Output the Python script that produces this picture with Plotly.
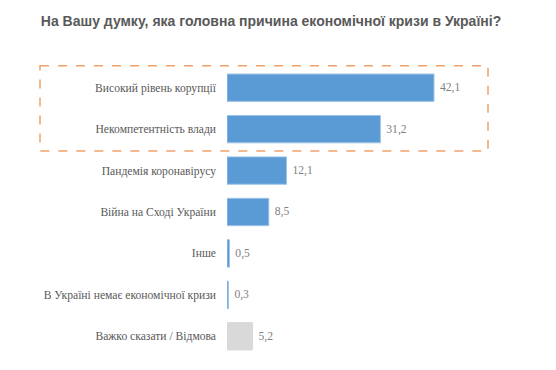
import plotly.graph_objects as go

categories = [
    "Високий рівень корупції",
    "Некомпетентність влади",
    "Пандемія коронавірусу",
    "Війна на Сході України",
    "Інше",
    "В Україні немає економічної кризи",
    "Важко сказати / Відмова",
]
values = [42.1, 31.2, 12.1, 8.5, 0.5, 0.3, 5.2]
labels = [" " + f"{v:.1f}".replace(".", ",") for v in values]
colors = ["#5B9BD5"] * 6 + ["#D9D9D9"]
edges = ["#9DC3E6"] * 6 + ["#D9D9D9"]

SERIF = "Liberation Serif, Times New Roman, serif"

fig = go.Figure(go.Bar(
    y=categories, x=values, orientation="h",
    marker=dict(color=colors, line=dict(color=edges, width=1)),
    text=labels, textposition="outside", cliponaxis=False,
    textfont=dict(family=SERIF, size=11.6, color="#7F7F7F"),
    width=0.66,
))

fig.add_shape(type="rect", xref="paper", yref="y",
              x0=(40 - 227) / 295, x1=(488 - 227) / 295, y0=-0.53, y1=1.53,
              line=dict(color="#EFA26A", width=1.5, dash="dash"))

fig.update_layout(
    width=548, height=362,
    margin=dict(l=219, r=34, t=57, b=13),
    paper_bgcolor="white", plot_bgcolor="white",
    showlegend=False,
    title=dict(text="<b>На Вашу думку, яка головна причина економічної кризи в Україні?</b>",
               x=0.48, xanchor="center", y=0.964, yanchor="middle",
               font=dict(family="Liberation Sans, Arial, sans-serif", size=14, color="#595959")),
    xaxis=dict(range=[0, 60], visible=False, automargin=False),
    yaxis=dict(autorange="reversed", showgrid=False, zeroline=False, showline=False,
               automargin=False, ticks="", ticklabelstandoff=10,
               tickfont=dict(family=SERIF, size=11.6, color="#595959")),
)

fig.write_html("out.html")
